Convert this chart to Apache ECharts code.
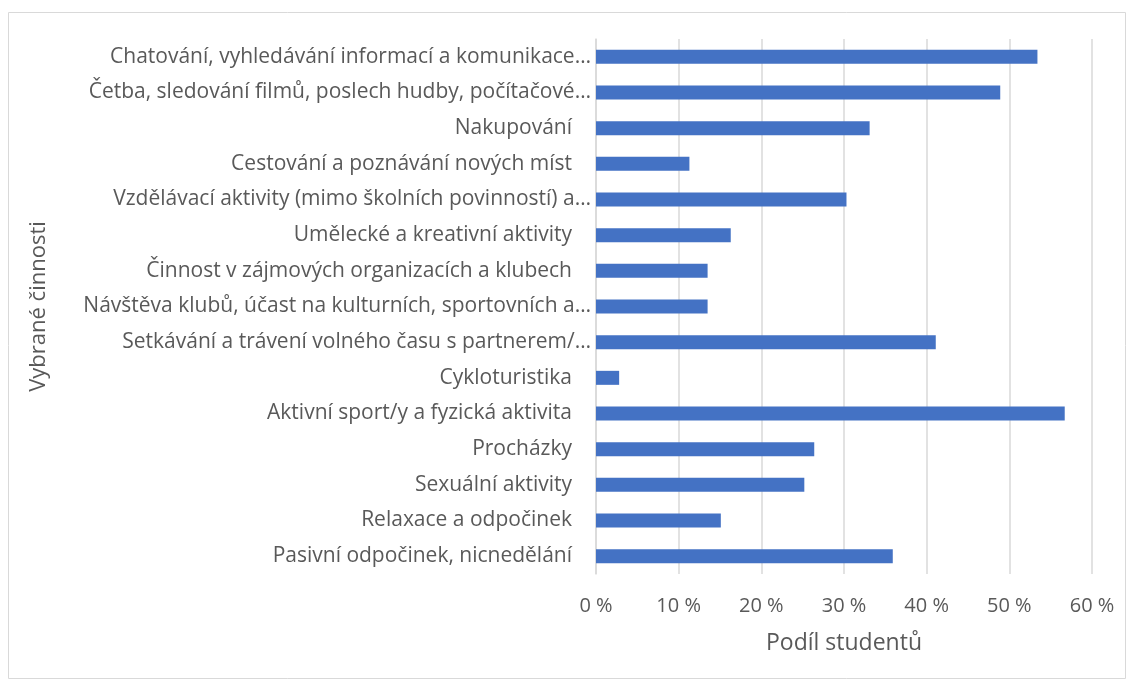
<!DOCTYPE html>
<html>
<head>
<meta charset="utf-8">
<script src="https://cdn.jsdelivr.net/npm/echarts@6/dist/echarts.min.js"></script>
<style>
  html, body { margin: 0; padding: 0; background: #fff; }
  #chart { width: 1134px; height: 684px; }
</style>
</head>
<body>
<div id="chart"></div>
<script>
// categories from top to bottom, as shown in the picture
const categories = [
  'Chatování, vyhledávání informací a komunikace…',
  'Četba, sledování filmů, poslech hudby, počítačové…',
  'Nakupování',
  'Cestování a poznávání nových míst',
  'Vzdělávací aktivity (mimo školních povinností) a…',
  'Umělecké a kreativní aktivity',
  'Činnost v zájmových organizacích a klubech',
  'Návštěva klubů, účast na kulturních, sportovních a…',
  'Setkávání a trávení volného času s partnerem/…',
  'Cykloturistika',
  'Aktivní sport/y a fyzická aktivita',
  'Procházky',
  'Sexuální aktivity',
  'Relaxace a odpočinek',
  'Pasivní odpočinek, nicnedělání'
];
// podíl studentů v %
const shares = [53.4, 48.9, 33.1, 11.3, 30.3, 16.3, 13.5, 13.5, 41.1, 2.8, 56.7, 26.4, 25.2, 15.1, 35.9];
const xTicks = [0, 10, 20, 30, 40, 50, 60];

const font = '"Open Sans", sans-serif';
const textColor = '#595959';

const chart = echarts.init(document.getElementById('chart'));

const option = {
  animation: false,
  graphic: [{
    type: 'rect',
    shape: { x: 8.5, y: 12.5, width: 1117, height: 666 },
    style: { fill: 'none', stroke: '#D9D9D9', lineWidth: 1 },
    silent: true
  }],
  grid: { left: 596, right: 42, top: 39, bottom: 110 },
  xAxis: {
    type: 'value',
    min: xTicks[0],
    max: xTicks[xTicks.length - 1],
    interval: 10,
    name: 'Podíl studentů',
    nameLocation: 'middle',
    nameGap: 58,
    nameTextStyle: { color: textColor, fontSize: 23, fontFamily: font },
    axisLine: { show: false },
    axisTick: { show: false },
    axisLabel: {
      color: textColor, fontSize: 20, fontFamily: font, margin: 22,
      formatter: v => v + ' %'
    },
    splitLine: { lineStyle: { color: '#D9D9D9', width: 1.5 } }
  },
  yAxis: {
    type: 'category',
    inverse: true,
    data: categories,
    name: 'Vybrané činnosti',
    nameLocation: 'middle',
    nameGap: 546,
    nameTextStyle: { color: textColor, fontSize: 22, fontFamily: font },
    axisLine: { show: true, lineStyle: { color: '#D9D9D9', width: 1.5 } },
    axisTick: { show: false },
    axisLabel: {
      color: textColor, fontSize: 21, fontFamily: font, margin: 5,
      formatter: v => v.endsWith('…') ? '{t|' + v + '}' : '{n|' + v + '}',
      rich: {
        t: { color: textColor, fontSize: 21, fontFamily: font },
        n: { color: textColor, fontSize: 21, fontFamily: font, padding: [0, 19, 0, 0] }
      }
    }
  },
  series: [{
    type: 'bar',
    data: shares,
    barWidth: 14,
    itemStyle: { color: '#4472C4' }
  }]
};

chart.setOption(option);
</script>
</body>
</html>
